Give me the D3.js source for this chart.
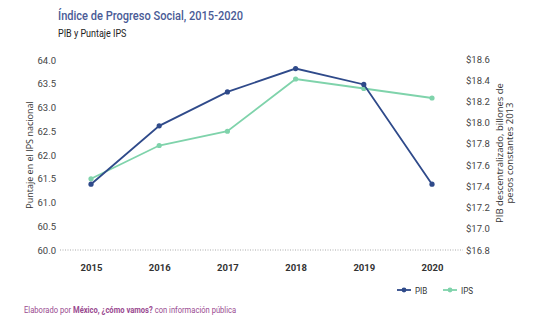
<!DOCTYPE html>
<html>
<head>
<meta charset="utf-8">
<script src="https://cdn.jsdelivr.net/npm/d3@7"></script>
<style>
  body { margin: 0; background: #fff; }
  svg { display: block; font-family: "Liberation Sans Narrow", "Roboto", sans-serif; }
</style>
</head>
<body>
<div class="chart"></div>
<script>
var years = ["2015", "2016", "2017", "2018", "2019", "2020"];
var ips = [61.5, 62.2, 62.5, 63.6, 63.4, 63.2];
var pib = [17.42, 17.97, 18.29, 18.51, 18.36, 17.42];
var leftTicks = [60.0, 60.5, 61.0, 61.5, 62.0, 62.5, 63.0, 63.5, 64.0];
var rightTicks = [16.8, 17.0, 17.2, 17.4, 17.6, 17.8, 18.0, 18.2, 18.4, 18.6];

(function drawChart() {
	var width = 541, height = 334;
	var top = 60, bottom = 250;

	var svg = d3.select(".chart")
				.append("svg")
				.attr("width", width)
				.attr("height", height);

	var xScale = d3.scalePoint()
				   .domain(years)
				   .range([91, 432]);

	var yLeft = d3.scaleLinear()
				  .domain([60, 64])
				  .range([bottom, top]);

	var yRight = d3.scaleLinear()
				   .domain([16.8, 18.6])
				   .range([bottom, top - 1]);

	// titles (narrowed to mimic the condensed face of the original)
	svg.append("text")
	   .attr("transform", "translate(58,20) scale(0.82,1)")
	   .attr("fill", "#4a5b96")
	   .style("font-family", "Roboto, sans-serif")
	   .style("font-size", "13.5px")
	   .style("font-weight", "500")
	   .text("Índice de Progreso Social, 2015-2020");

	svg.append("text")
	   .attr("transform", "translate(58,37) scale(0.9,1)")
	   .attr("fill", "#222")
	   .style("font-family", "Roboto, sans-serif")
	   .style("font-size", "10px")
	   .text("PIB y Puntaje IPS");

	// baseline
	svg.append("line")
	   .attr("x1", 60).attr("x2", 463)
	   .attr("y1", bottom).attr("y2", bottom)
	   .attr("stroke", "#aaa")
	   .attr("stroke-width", 1)
	   .attr("stroke-dasharray", "1,1.5");

	var leftAxis = d3.axisLeft(yLeft)
					 .tickValues(leftTicks)
					 .tickSize(0)
					 .tickPadding(0)
					 .tickFormat(d3.format(".1f"));

	var gl = svg.append("g")
				.attr("transform", "translate(56,0)")
				.call(leftAxis);
	gl.select(".domain").remove();
	gl.selectAll("text")
	  .attr("fill", "#444")
	  .style("font-size", "9.5px")
	  .style("font-family", "\"Liberation Sans Narrow\", Roboto, sans-serif");

	var rightAxis = d3.axisRight(yRight)
					  .tickValues(rightTicks)
					  .tickSize(0)
					  .tickPadding(0)
					  .tickFormat(function(d) { return "$" + d3.format(".1f")(d); });

	var gr = svg.append("g")
				.attr("transform", "translate(466,0)")
				.call(rightAxis);
	gr.select(".domain").remove();
	gr.selectAll("text")
	  .attr("fill", "#444")
	  .style("font-size", "9.5px")
	  .style("font-family", "\"Liberation Sans Narrow\", Roboto, sans-serif");

	var xAxis = d3.axisBottom(xScale)
				  .tickSize(0)
				  .tickPadding(0);

	var gx = svg.append("g")
				.attr("transform", "translate(0,264)")
				.call(xAxis);
	gx.select(".domain").remove();
	gx.selectAll("text")
	  .attr("fill", "#333")
	  .style("font-size", "9.5px")
	  .style("font-weight", "bold")
	  .style("font-family", "\"Liberation Sans Narrow\", Roboto, sans-serif");

	// axis titles
	svg.append("text")
	   .attr("transform", "translate(33,155) rotate(-90)")
	   .attr("text-anchor", "middle")
	   .attr("fill", "#333")
	   .style("font-family", "\"Open Sans\", sans-serif")
	   .style("font-size", "9px")
	   .text("Puntaje en el IPS nacional");

	var rt = svg.append("text")
				.attr("transform", "translate(503,153) rotate(-90)")
				.attr("text-anchor", "middle")
				.attr("fill", "#333")
				.style("font-family", "\"Open Sans\", sans-serif")
				.style("font-size", "9.5px");
	rt.append("tspan").attr("x", 0).attr("dy", 0).text("PIB descentralizado, billones de");
	rt.append("tspan").attr("x", 0).attr("dy", "1.0em").text("pesos constantes 2013");

	// lines
	var series = [
		{ name: "IPS", values: ips, scale: yLeft, color: "#7fd3ab" },
		{ name: "PIB", values: pib, scale: yRight, color: "#2f4a8a" }
	];

	series.forEach(function(s) {
		var line = d3.line()
					 .x(function(d, i) { return xScale(years[i]); })
					 .y(function(d) { return s.scale(d); });

		svg.append("path")
		   .datum(s.values)
		   .attr("d", line)
		   .attr("fill", "none")
		   .attr("stroke", s.color)
		   .attr("stroke-width", 1.8);

		svg.selectAll(".pt-" + s.name)
		   .data(s.values)
		   .enter()
		   .append("circle")
		   .attr("cx", function(d, i) { return xScale(years[i]); })
		   .attr("cy", function(d) { return s.scale(d); })
		   .attr("r", 2.6)
		   .attr("fill", s.color);
	});

	// legend
	var legend = [
		{ name: "PIB", color: "#2f4a8a", x: 397 },
		{ name: "IPS", color: "#7fd3ab", x: 443 }
	];
	legend.forEach(function(l) {
		svg.append("line")
		   .attr("x1", l.x).attr("x2", l.x + 14)
		   .attr("y1", 290).attr("y2", 290)
		   .attr("stroke", l.color)
		   .attr("stroke-width", 1.8);
		svg.append("circle")
		   .attr("cx", l.x + 7).attr("cy", 290)
		   .attr("r", 2.4)
		   .attr("fill", l.color);
		svg.append("text")
		   .attr("transform", "translate(" + (l.x + 18) + ",293.5) scale(0.85,1)")
		   .attr("fill", "#333")
		   .style("font-size", "9.5px")
		   .text(l.name);
	});

	// source
	var src = svg.append("text")
				 .attr("transform", "translate(24,313) scale(0.8,1)")
				 .attr("fill", "#9a4a90")
				 .style("font-size", "9.5px");
	src.append("tspan").text("Elaborado por ");
	src.append("tspan").style("font-weight", "bold").text("México, ¿cómo vamos?");
	src.append("tspan").text(" con información pública");
}());
</script>
</body>
</html>
